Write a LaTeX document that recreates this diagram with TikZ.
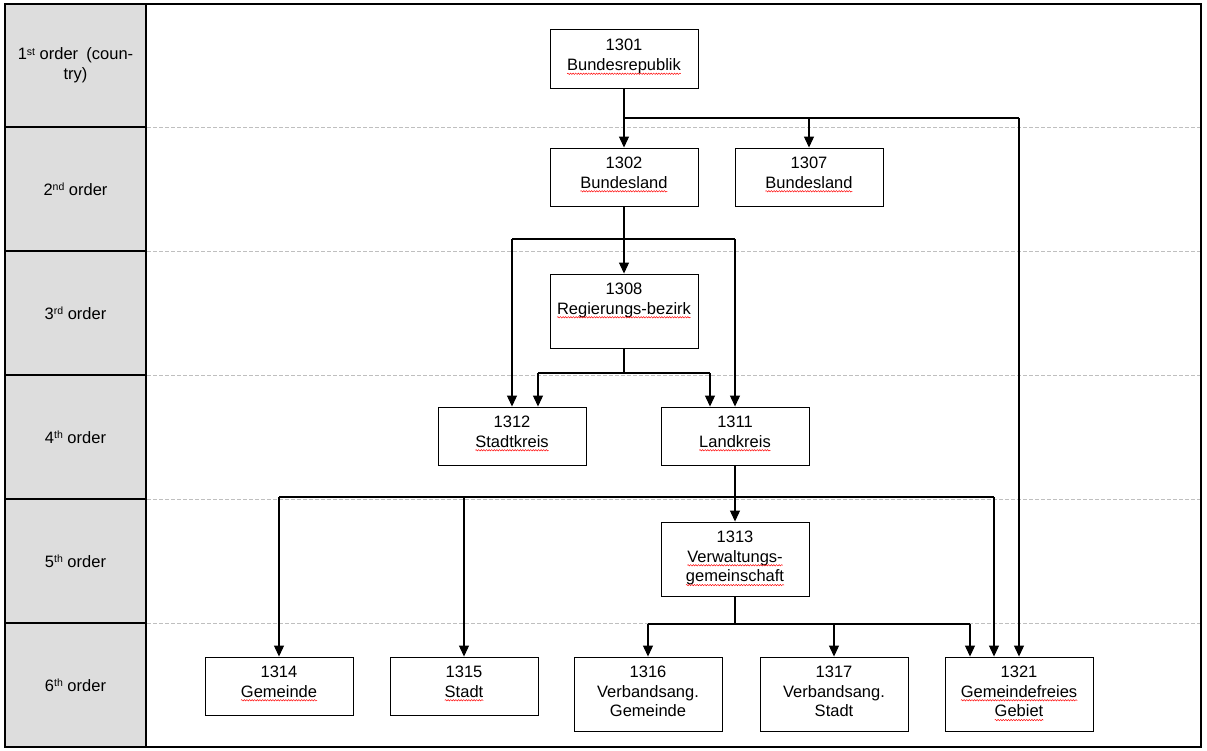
\documentclass[tikz,border=0pt]{standalone}
\usepackage{fontspec}
\setmainfont{Liberation Sans}
\usetikzlibrary{arrows.meta,decorations.pathmorphing}
\definecolor{colgray}{HTML}{DDDDDD}
\definecolor{dashgray}{HTML}{BFBFBF}
\newcommand\spw[1]{\tikz[baseline=(sw.base)]{\node[inner sep=0pt,outer sep=0pt,anchor=base](sw) at (0,0){#1};\draw[red, line width=0.45pt, decorate, decoration={snake,amplitude=0.7pt,segment length=2.6pt}] ([yshift=-3.2pt]sw.base west) -- ([yshift=-3.2pt]sw.base east);}}
\newcommand\sps[1]{\raisebox{0.28em}{\fontsize{10.5}{12}\selectfont #1}}
\begin{document}
\begin{tikzpicture}[x=1pt,y=-1pt,
  font=\fontsize{16.5}{19.8}\selectfont,
  box/.style={draw, line width=0.9pt, minimum width=148pt, inner sep=0pt},
  lbl/.style={align=center, inner sep=0pt, anchor=north},
  rowlbl/.style={align=center, inner sep=0pt},
  conn/.style={line width=1.1pt},
  arr/.style={line width=1.1pt, -{Triangle[length=11pt,width=10pt]}},
  rowsep/.style={dashgray, line width=0.8pt, dash pattern=on 4pt off 2pt},
  frame/.style={line width=1.2pt}]
\useasboundingbox (0,0) rectangle (1207,751);
% table
\fill[colgray] (5,4) rectangle (146,747);
\foreach \yy in {127,251,375,499,623} {
  \draw[frame] (5,\yy) -- (146,\yy);
  \draw[rowsep] (147,\yy) -- (1200,\yy);
}
\draw[frame] (146,4) -- (146,747);
\draw[frame] (5,4) rectangle (1201,747);
% row labels
\node[rowlbl] (r1) at (75.5,65.5) {1\sps{st} order\enspace(coun-\\try)};
\node[rowlbl] (r2) at (75.5,189) {2\sps{nd} order};
\node[rowlbl] (r3) at (75.5,313) {3\sps{rd} order};
\node[rowlbl] (r4) at (75.5,437) {4\sps{th} order};
\node[rowlbl] (r5) at (75.5,561) {5\sps{th} order};
\node[rowlbl] (r6) at (75.5,685) {6\sps{th} order};
% boxes
\node[box, minimum height=59pt] (n1301) at (624,58.5) {};
\node[box, minimum height=58pt] (n1302) at (624,177) {};
\node[box, minimum height=58pt] (n1307) at (809,177) {};
\node[box, minimum height=74pt] (n1308) at (624,311) {};
\node[box, minimum height=58pt] (n1312) at (512,436) {};
\node[box, minimum height=58pt] (n1311) at (735,436) {};
\node[box, minimum height=74pt] (n1313) at (735,559) {};
\node[box, minimum height=58pt] (n1314) at (279,686) {};
\node[box, minimum height=58pt] (n1315) at (464,686) {};
\node[box, minimum height=74pt] (n1316) at (648,694) {};
\node[box, minimum height=74pt] (n1317) at (834,694) {};
\node[box, minimum height=74pt] (n1321) at (1019,694) {};
% box texts
\node[lbl] (t1301) at ([yshift=-10.5pt]n1301.north) {1301\\\spw{Bundesrepublik}};
\node[lbl] (t1302) at ([yshift=-9pt]n1302.north) {1302\\\spw{Bundesland}};
\node[lbl] (t1307) at ([yshift=-9pt]n1307.north) {1307\\\spw{Bundesland}};
\node[lbl] (t1308) at ([yshift=-9pt]n1308.north) {1308\\\spw{Regierungs-bezirk}};
\node[lbl] (t1312) at ([yshift=-9pt]n1312.north) {1312\\\spw{Stadtkreis}};
\node[lbl] (t1311) at ([yshift=-9pt]n1311.north) {1311\\\spw{Landkreis}};
\node[lbl] (t1313) at ([yshift=-9pt]n1313.north) {1313\\\spw{Verwaltungs-}\\\spw{gemeinschaft}};
\node[lbl] (t1314) at ([yshift=-9pt]n1314.north) {1314\\\spw{Gemeinde}};
\node[lbl] (t1315) at ([yshift=-9pt]n1315.north) {1315\\\spw{Stadt}};
\node[lbl] (t1316) at ([yshift=-9pt]n1316.north) {1316\\Verbandsang.\\Gemeinde};
\node[lbl] (t1317) at ([yshift=-9pt]n1317.north) {1317\\Verbandsang.\\Stadt};
\node[lbl] (t1321) at ([yshift=-9pt]n1321.north) {1321\\\spw{Gemeindefreies}\\\spw{Gebiet}};
% bus coordinates
\coordinate (b1) at (624,118);
\coordinate (b2) at (624,239);
\coordinate (b3) at (624,373);
\coordinate (b4) at (735,497);
\coordinate (b5) at (735,624);
% 1st -> 2nd
\draw[arr] (n1301.south) -- (n1302.north);
\draw[conn] (b1) -- (b1 -| n1321.north);
\draw[arr] (b1 -| n1307.north) -- (n1307.north);
\draw[arr] (b1 -| n1321.north) -- (n1321.north);
% 1302 -> 1308, 1312, 1311
\draw[arr] (n1302.south) -- (n1308.north);
\draw[conn] (b2 -| n1312.north) -- (b2 -| n1311.north);
\draw[arr] (b2 -| n1312.north) -- (n1312.north);
\draw[arr] (b2 -| n1311.north) -- (n1311.north);
% 1308 -> 1312, 1311
\draw[conn] (n1308.south) -- (b3);
\draw[conn] ([xshift=26pt]b3 -| n1312.north) -- ([xshift=-25pt]b3 -| n1311.north);
\draw[arr] ([xshift=26pt]b3 -| n1312.north) -- ([xshift=26pt]n1312.north);
\draw[arr] ([xshift=-25pt]b3 -| n1311.north) -- ([xshift=-25pt]n1311.north);
% 1311 -> 1313, 1314, 1315, 1321
\draw[arr] (n1311.south) -- (n1313.north);
\draw[conn] (b4 -| n1314.north) -- ([xshift=-25pt]b4 -| n1321.north);
\draw[arr] (b4 -| n1314.north) -- (n1314.north);
\draw[arr] (b4 -| n1315.north) -- (n1315.north);
\draw[arr] ([xshift=-25pt]b4 -| n1321.north) -- ([xshift=-25pt]n1321.north);
% 1313 -> 1316, 1317, 1321
\draw[conn] (n1313.south) -- (b5);
\draw[conn] (b5 -| n1316.north) -- ([xshift=-49pt]b5 -| n1321.north);
\draw[arr] (b5 -| n1316.north) -- (n1316.north);
\draw[arr] (b5 -| n1317.north) -- (n1317.north);
\draw[arr] ([xshift=-49pt]b5 -| n1321.north) -- ([xshift=-49pt]n1321.north);
\end{tikzpicture}
\end{document}
